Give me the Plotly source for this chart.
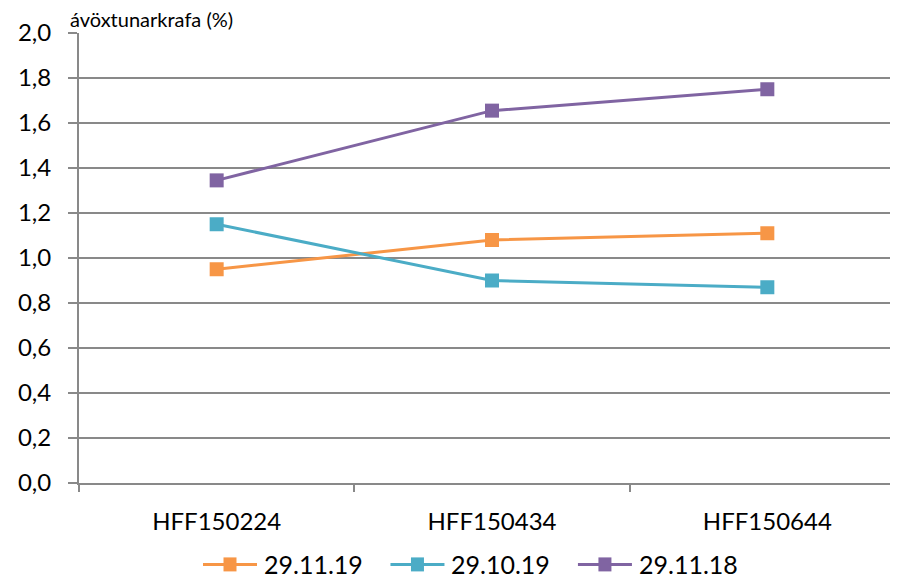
import plotly.graph_objects as go

categories = ["HFF150224", "HFF150434", "HFF150644"]
series_names = ["29.11.19", "29.10.19", "29.11.18"]
s_291119 = [0.95, 1.08, 1.11]
s_291019 = [1.15, 0.90, 0.87]
s_291118 = [1.345, 1.655, 1.75]
colors = ["#F79646", "#4BACC6", "#8064A2"]
y_ticks = [0.0, 0.2, 0.4, 0.6, 0.8, 1.0, 1.2, 1.4, 1.6, 1.8, 2.0]
y_title = "ávöxtunarkrafa (%)"

FONT = "Lato, Carlito, Calibri, sans-serif"
GRID = "#898989"

fig = go.Figure()
for name, vals, col in zip(series_names, [s_291119, s_291019, s_291118], colors):
    fig.add_trace(go.Scatter(
        x=categories, y=vals, name=name, mode="lines+markers",
        line=dict(color=col, width=3),
        marker=dict(symbol="square", size=14, color=col),
        showlegend=False,
    ))

# Legend drawn as shapes + text (Excel-style long symbol lines)
LEG_Y = -0.1809
LEG_X0 = 0.1514
LEG_STEP = 0.2289
shapes, annots = [], []
for i, (name, col) in enumerate(zip(series_names, colors)):
    xa = LEG_X0 + i * LEG_STEP
    shapes.append(dict(type="line", xref="paper", yref="paper", xsizemode="pixel", ysizemode="pixel",
                       xanchor=xa, yanchor=LEG_Y, x0=0, x1=54, y0=0, y1=0,
                       line=dict(color=col, width=3)))
    shapes.append(dict(type="rect", xref="paper", yref="paper", xsizemode="pixel", ysizemode="pixel",
                       xanchor=xa, yanchor=LEG_Y, x0=20.5, x1=33.5, y0=-7, y1=7,
                       fillcolor=col, line=dict(width=0)))
    annots.append(dict(text=name, xref="paper", yref="paper", x=xa, y=LEG_Y, xshift=59,
                       xanchor="left", yanchor="middle", showarrow=False,
                       font=dict(size=25, family=FONT, color="#000000")))

annots.append(dict(text=y_title, xref="paper", yref="paper", x=-0.0134, y=1.0,
                   xanchor="left", yanchor="middle", yshift=14, showarrow=False,
                   font=dict(size=20, family=FONT)))

# page body has an 8px margin, so the figure is offset by 8px
fig.update_layout(
    width=890, height=572,
    margin=dict(l=71, r=0, t=25, b=96.5),
    paper_bgcolor="white", plot_bgcolor="white",
    separators=", ",
    font=dict(family=FONT, color="#000000", size=20),
    showlegend=False,
    shapes=shapes,
    annotations=annots,
)
fig.update_xaxes(
    type="category", range=[-0.5, 2.5 - 7 / 275.5], automargin=False,
    showgrid=False, showline=True, linecolor=GRID, linewidth=2,
    ticks="outside", tickson="boundaries", ticklen=7, tickcolor=GRID, tickwidth=2,
    ticklabelstandoff=16, tickfont=dict(size=24, family=FONT), zeroline=False,
)
fig.update_yaxes(
    range=[0, 2.0], tickvals=y_ticks, tickformat=".1f", automargin=False,
    showgrid=True, gridcolor=GRID, gridwidth=2,
    showline=True, linecolor=GRID, linewidth=2,
    ticks="outside", ticklen=9, tickcolor=GRID, tickwidth=2,
    ticklabelstandoff=12, tickfont=dict(size=24, family=FONT), zeroline=False,
)

fig.write_html("out.html")
